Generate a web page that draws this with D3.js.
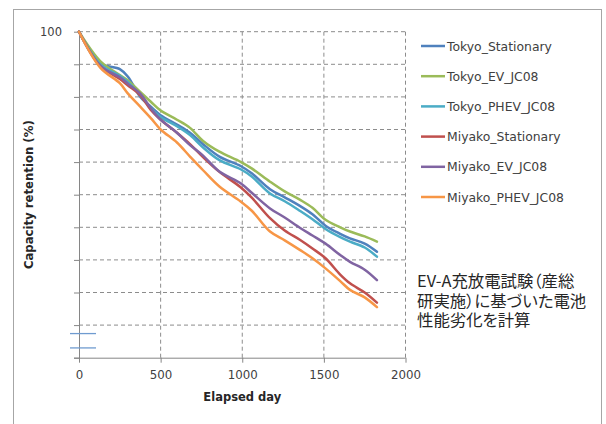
<!DOCTYPE html>
<html>
<head>
<meta charset="utf-8">
<script src="https://cdn.jsdelivr.net/npm/d3@7"></script>
<style>
  body { margin: 0; background: #fff; }
  svg { display: block; font-family: "DejaVu Sans", Verdana, sans-serif; }
  .note { font-feature-settings: "palt"; }
</style>
</head>
<body>
<svg id="chart"></svg>
<script>
// sample days shared by all series
const days = [0, 130, 250, 300, 375, 440, 500, 600, 680, 760, 860, 990, 1060, 1170, 1260, 1355, 1430, 1510, 1600, 1660, 1750, 1825];

const tokyo_stationary = [100, 98.06, 97.7, 97.24, 96.0, 95.4, 94.88, 94.3, 93.8, 93.1, 92.34, 91.76, 91.3, 90.34, 89.84, 89.3, 88.8, 88.1, 87.6, 87.32, 87.0, 86.5];
const tokyo_ev = [100, 98.2, 97.34, 97.0, 96.3, 95.7, 95.16, 94.6, 94.1, 93.3, 92.64, 92.02, 91.6, 90.8, 90.2, 89.68, 89.2, 88.46, 88.0, 87.74, 87.44, 87.12];
const tokyo_phev = [100, 98.0, 97.3, 96.9, 96.1, 95.3, 94.76, 94.2, 93.66, 92.9, 92.12, 91.56, 91.1, 90.08, 89.6, 89.0, 88.5, 87.9, 87.4, 87.12, 86.76, 86.2];
const miyako_stationary = [100, 97.9, 97.1, 96.7, 96.1, 95.2, 94.6, 93.8, 93.1, 92.3, 91.4, 90.46, 89.8, 88.56, 87.8, 87.22, 86.7, 86.1, 85.1, 84.56, 84.0, 83.38];
const miyako_ev = [100, 97.9, 97.2, 96.8, 96.2, 95.3, 94.6, 93.8, 93.04, 92.4, 91.42, 90.7, 90.1, 89.16, 88.6, 87.96, 87.5, 87.0, 86.3, 85.88, 85.4, 84.76];
const miyako_phev = [100, 97.8, 96.84, 96.2, 95.4, 94.7, 94.0, 93.2, 92.34, 91.5, 90.5, 89.58, 89.0, 87.74, 87.2, 86.6, 86.1, 85.48, 84.7, 84.16, 83.7, 83.1];

const series_names = ["Tokyo_Stationary", "Tokyo_EV_JC08", "Tokyo_PHEV_JC08", "Miyako_Stationary", "Miyako_EV_JC08", "Miyako_PHEV_JC08"];
const series_values = [tokyo_stationary, tokyo_ev, tokyo_phev, miyako_stationary, miyako_ev, miyako_phev];
const series_colors = ["#4f81bd", "#9bbb59", "#4bacc6", "#c0504d", "#8064a2", "#f79646"];

const x_ticks = [0, 500, 1000, 1500, 2000];
const y_ticks = [80, 82, 84, 86, 88, 90, 92, 94, 96, 98, 100];
const y_labelled = [100];

const note_lines = ["EV-A充放電試験（産総", "研実施）に基づいた電池", "性能劣化を計算"];

function create_chart() {
  const width = 606;
  const height = 424;
  const marginTop = 31.7;
  const marginLeft = 79;
  const plotRight = 405.5;
  const plotBottom = 357.7;
  const gridColor = "#8c8c8c";
  const axisColor = "#868686";
  const textColor = "#404040";

  const x = d3.scaleLinear([0, 2000], [marginLeft, plotRight]);
  const y = d3.scaleLinear([80, 100], [plotBottom, marginTop]);

  const svg = d3.select("svg#chart")
    .attr("width", width)
    .attr("height", height)
    .attr("viewBox", [0, 0, width, height]);

  // outer frame
  svg.append("rect")
    .attr("x", 13.5)
    .attr("y", 9.5)
    .attr("width", 588)
    .attr("height", 430)
    .attr("fill", "none")
    .attr("stroke", "#a6a6a6");

  // dashed grid, horizontal
  svg.append("g")
    .selectAll("line")
    .data(y_ticks.filter(d => d !== 80))
    .join("line")
    .attr("x1", marginLeft)
    .attr("x2", plotRight)
    .attr("y1", d => y(d))
    .attr("y2", d => y(d))
    .attr("stroke", gridColor)
    .attr("stroke-dasharray", "4,3");

  // dashed grid, vertical
  svg.append("g")
    .selectAll("line")
    .data(x_ticks.filter(d => d !== 0))
    .join("line")
    .attr("x1", d => x(d))
    .attr("x2", d => x(d))
    .attr("y1", marginTop)
    .attr("y2", plotBottom)
    .attr("stroke", gridColor)
    .attr("stroke-dasharray", "4,3");

  // y axis
  svg.append("g")
    .attr("transform", `translate(${marginLeft},0)`)
    .call(d3.axisLeft(y).tickValues(y_ticks).tickSize(5).tickSizeOuter(0)
      .tickFormat(d => y_labelled.includes(d) ? d : ""))
    .call(g => g.select(".domain").attr("stroke", axisColor))
    .call(g => g.selectAll(".tick line").attr("stroke", axisColor))
    .call(g => g.selectAll(".tick text")
      .attr("x", -17)
      .attr("font-size", "11.5px")
      .attr("font-family", "DejaVu Sans")
      .attr("fill", textColor));

  // x axis
  svg.append("g")
    .attr("transform", `translate(0,${plotBottom})`)
    .call(d3.axisBottom(x).tickValues(x_ticks).tickSize(5).tickSizeOuter(0).tickFormat(d3.format("d")))
    .call(g => g.select(".domain").attr("stroke", axisColor).attr("d", `M${marginLeft - 5},0.5H${plotRight}`))
    .call(g => g.selectAll(".tick line").attr("stroke", axisColor))
    .call(g => g.selectAll(".tick text")
      .attr("y", 13)
      .attr("font-size", "11.8px")
      .attr("font-family", "DejaVu Sans")
      .attr("fill", textColor));

  // axis titles
  svg.append("text")
    .attr("x", x(1000))
    .attr("y", 401)
    .attr("text-anchor", "middle")
    .attr("font-size", "11.5px")
    .attr("font-weight", "bold")
    .attr("fill", "#262626")
    .text("Elapsed day");

  svg.append("text")
    .attr("transform", `translate(33,${(marginTop + plotBottom) / 2}) rotate(-90)`)
    .attr("text-anchor", "middle")
    .attr("font-size", "11.7px")
    .attr("font-weight", "bold")
    .attr("fill", "#262626")
    .text("Capacity retention (%)");

  // axis break marks
  svg.append("g")
    .selectAll("line")
    .data([81.48, 80.6])
    .join("line")
    .attr("x1", x(0) - 9)
    .attr("x2", x(0) + 17)
    .attr("y1", d => y(d))
    .attr("y2", d => y(d))
    .attr("stroke", "#6f9bd0")
    .attr("stroke-width", 1.3);

  // series lines
  const line = d3.line()
    .x(d => x(d[0]))
    .y(d => y(d[1]))
    .curve(d3.curveCatmullRom);

  for (let i = 0; i < series_values.length; i++) {
    svg.append("path")
      .attr("fill", "none")
      .attr("stroke", series_colors[i])
      .attr("stroke-width", 2.5)
      .attr("stroke-linejoin", "round")
      .attr("stroke-linecap", "round")
      .attr("d", line(days.map((d, j) => [d, series_values[i][j]])));
  }

  // legend
  const legend = svg.append("g");
  for (let i = 0; i < series_names.length; i++) {
    let cy = 46 + i * 30.2;
    legend.append("line")
      .attr("x1", 421)
      .attr("x2", 445)
      .attr("y1", cy)
      .attr("y2", cy)
      .attr("stroke", series_colors[i])
      .attr("stroke-width", 2.5);
    legend.append("text")
      .attr("x", 447)
      .attr("y", cy + 4.5)
      .attr("font-size", "12.4px")
      .attr("fill", textColor)
      .text(series_names[i]);
  }

  // note
  svg.append("g")
    .selectAll("text")
    .data(note_lines)
    .join("text")
    .attr("class", "note")
    .attr("x", 417)
    .attr("y", (d, i) => 287 + i * 19.7)
    .attr("font-family", "'Noto Sans CJK JP', sans-serif")
    .attr("font-size", "16.4px")
    .attr("fill", "#262626")
    .text(d => d);
}

create_chart();
</script>
</body>
</html>
